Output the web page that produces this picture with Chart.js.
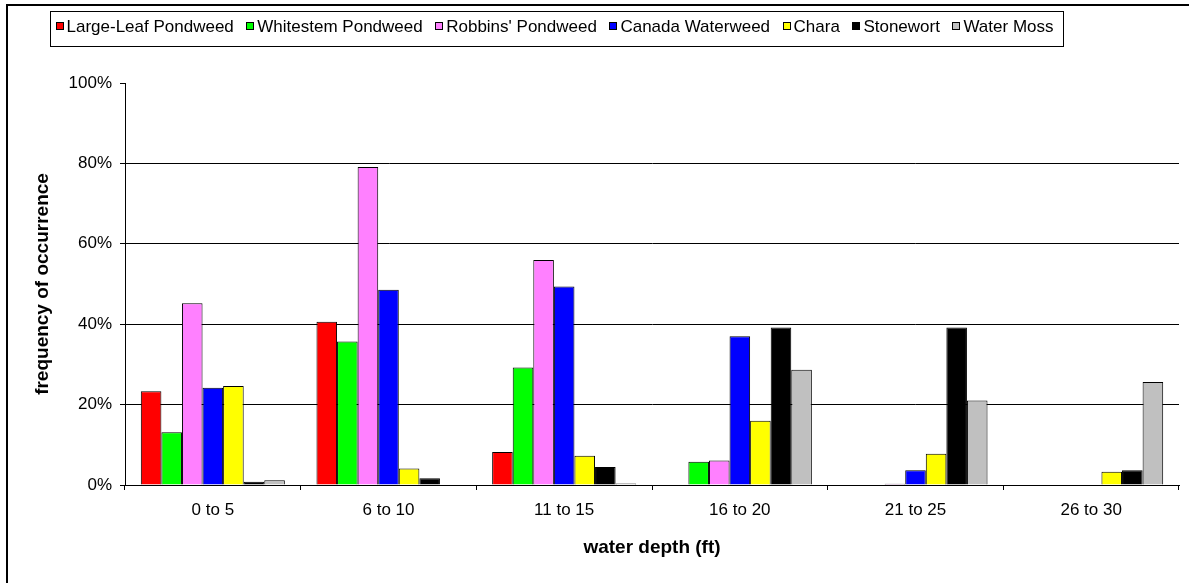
<!DOCTYPE html>
<html>
<head>
<meta charset="utf-8">
<script src="https://cdn.jsdelivr.net/npm/chart.js@4.4.1/dist/chart.umd.min.js"></script>
<style>
  html, body { margin: 0; padding: 0; background: #fff; }
  #wrap { width: 1189px; height: 583px; position: relative; }
</style>
</head>
<body>
<div id="wrap"><canvas id="depthChart"></canvas></div>
<script>
// Data
const depthLabels = ['0 to 5', '6 to 10', '11 to 15', '16 to 20', '21 to 25', '26 to 30'];
const seriesNames = ['Large-Leaf Pondweed', 'Whitestem Pondweed', "Robbins' Pondweed", 'Canada Waterweed', 'Chara', 'Stonewort', 'Water Moss'];
const largeLeaf  = [23.3, 40.6, 8.2, 0, 0, 0];
const whitestem  = [13.1, 35.7, 29.2, 5.8, 0, 0];
const robbins    = [45.2, 79.1, 56.0, 6.1, 0.3, 0];
const canada     = [24.2, 48.6, 49.4, 37.0, 3.7, 0];
const chara      = [24.6, 4.1, 7.3, 16.0, 7.8, 3.3];
const stonewort  = [0.8, 1.7, 4.5, 39.2, 39.2, 3.7];
const waterMoss  = [1.2, 0, 0.4, 28.7, 21.0, 25.6];
const yTicks = [0, 20, 40, 60, 80, 100];

const seriesValues = [largeLeaf, whitestem, robbins, canada, chara, stonewort, waterMoss];
const seriesColors = ['#FF0000', '#00FF00', '#FF80FF', '#0000FF', '#FFFF00', '#000000', '#C0C0C0'];

const FONT = '"Liberation Sans", Arial, sans-serif';

// outer frame (left + top edges only are visible in the picture)
const framePlugin = {
    id: 'frame',
    beforeDraw(chart) {
        const ctx = chart.ctx;
        ctx.save();
        ctx.fillStyle = '#fff';
        ctx.fillRect(0, 0, chart.width, chart.height);
        ctx.strokeStyle = '#000';
        ctx.lineWidth = 2;
        ctx.beginPath();
        ctx.moveTo(7, chart.height);
        ctx.lineTo(7, 5);
        ctx.lineTo(chart.width, 5);
        ctx.stroke();
        ctx.restore();
    }
};

// boxed legend in one row, like the Excel one
const boxLegendPlugin = {
    id: 'boxLegend',
    afterDraw(chart) {
        const ctx = chart.ctx;
        const left = 50.5, top = 11.5, right = 1063.5, bottom = 46.5;
        const sw = 8, gap = 3, padL = 5, padR = 10, midY = 27;
        ctx.save();
        ctx.strokeStyle = '#000';
        ctx.lineWidth = 1;
        ctx.strokeRect(left, top, right - left, bottom - top);

        ctx.font = '17px ' + FONT;
        ctx.textBaseline = 'middle';
        const items = chart.data.datasets.map(ds => ({
            label: ds.label,
            color: ds.backgroundColor,
            w: sw + gap + ctx.measureText(ds.label).width
        }));
        const total = items.reduce((s, it) => s + it.w, 0);
        const spacing = (right - left - padL - padR - total) / (items.length - 1);
        let x = left + padL;
        items.forEach(it => {
            const sx = Math.round(x);
            ctx.fillStyle = it.color;
            ctx.fillRect(sx, midY - sw / 2 - 1, sw, sw);
            ctx.strokeRect(sx + 0.5, midY - sw / 2 - 0.5, sw - 1, sw - 1);
            ctx.fillStyle = '#000';
            ctx.fillText(it.label, x + sw + gap, midY);
            x += it.w + spacing;
        });
        ctx.restore();
    }
};

const ctx = document.getElementById('depthChart');
new Chart(ctx, {
    type: 'bar',
    data: {
        labels: depthLabels,
        datasets: seriesNames.map((name, i) => ({
            label: name,
            data: seriesValues[i],
            backgroundColor: seriesColors[i],
            borderColor: '#000',
            borderWidth: 1,
            categoryPercentage: 0.82,
            barPercentage: 1.0
        }))
    },
    options: {
        responsive: true,
        maintainAspectRatio: false,
        animation: false,
        layout: { padding: { top: 83, right: 10, left: 0, bottom: 0 } },
        plugins: {
            legend: { display: false },
            tooltip: { enabled: false }
        },
        scales: {
            x: {
                grid: {
                    display: true,
                    offset: true,
                    drawOnChartArea: false,
                    drawTicks: true,
                    tickLength: 5,
                    color: '#000'
                },
                border: { display: true, color: '#000', width: 1 },
                ticks: {
                    color: '#000',
                    font: { family: FONT, size: 17 },
                    padding: 10,
                    maxRotation: 0
                },
                title: {
                    display: true,
                    text: 'water depth (ft)',
                    color: '#000',
                    font: { family: FONT, size: 19, weight: 'bold' },
                    padding: { top: 0, bottom: 24 }
                },
                afterFit(scale) { scale.height = 98; }
            },
            y: {
                min: 0,
                max: 100,
                afterBuildTicks(scale) { scale.ticks = yTicks.map(v => ({ value: v })); },
                grid: {
                    color: c => (c.tick && c.tick.value === 100 ? 'rgba(0,0,0,0)' : '#000'),
                    tickColor: '#000',
                    tickLength: 5,
                    lineWidth: 1
                },
                border: { display: true, color: '#000', width: 1 },
                ticks: {
                    color: '#000',
                    font: { family: FONT, size: 17 },
                    padding: 8,
                    callback: v => v + '%'
                },
                title: {
                    display: true,
                    text: 'frequency of occurrence',
                    color: '#000',
                    font: { family: FONT, size: 19, weight: 'bold' },
                    padding: { top: 31, bottom: 0 }
                },
                afterFit(scale) { scale.width = 125; }
            }
        }
    },
    plugins: [framePlugin, boxLegendPlugin]
});
</script>
</body>
</html>
